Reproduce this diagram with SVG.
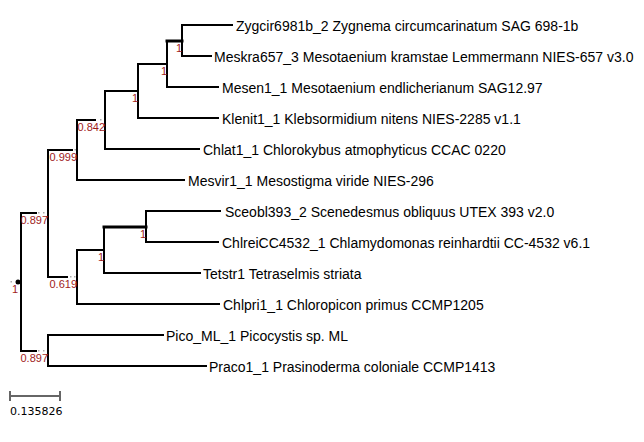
<svg xmlns="http://www.w3.org/2000/svg" width="644" height="442" viewBox="0 0 644 442">
<style>
.br{stroke:#000;stroke-width:2;fill:none;stroke-linecap:square}
.thick{stroke-width:3}
.dot{fill:#aaa}
.leaf{font-family:"Liberation Sans",Arial,sans-serif;font-size:14px;fill:#000}
.sup{font-family:"Liberation Sans",Arial,sans-serif;font-size:11px;fill:#a01c1c;text-anchor:end}
.scale{font-family:"DejaVu Sans",sans-serif;font-size:11px;fill:#000}
</style>
<rect width="644" height="442" fill="#fff"/>
<g id="connectors">
<!-- root vertical -->
<path class="br" d="M21 213V351"/>
<!-- root -> A (gap) -->
<path class="br" d="M21 213H36"/>
<rect class="dot" x="38" y="212" width="1.5" height="1.5"/><rect class="dot" x="43" y="212" width="1.5" height="1.5"/>
<path class="br" d="M48 150V277"/>
<!-- root -> J -->
<path class="br" d="M21 351H36"/>
<rect class="dot" x="38" y="350" width="1.5" height="1.5"/><rect class="dot" x="43" y="350" width="1.5" height="1.5"/>
<path class="br" d="M48 335V366"/>
<!-- A -> B -->
<path class="br" d="M48 150H72"/>
<rect class="dot" x="74.5" y="149" width="1.5" height="1.5"/>
<path class="br" d="M77 120V180"/>
<!-- A -> G -->
<path class="br" d="M48 277H67"/>
<rect class="dot" x="70" y="276" width="1.5" height="1.5"/><rect class="dot" x="74" y="276" width="1.5" height="1.5"/>
<path class="br" d="M77 250V304"/>
<!-- B -> C -->
<path class="br" d="M77 120H95"/>
<rect class="dot" x="100" y="119" width="1.5" height="1.5"/>
<path class="br" d="M105 91V149"/>
<!-- C -> D -->
<path class="br" d="M105 91H138V64"/>
<path class="br" d="M138 64V118"/>
<!-- D -> E -->
<path class="br" d="M138 64H167"/>
<path class="br" d="M167 41V87"/>
<!-- E -> F -->
<path class="br thick" d="M167 41H182"/>
<path class="br" d="M182 25V56"/>
<!-- G -> H -->
<path class="br" d="M77 250H104"/>
<path class="br" d="M104 227V273"/>
<!-- H -> I -->
<path class="br thick" d="M104 227H146"/>
<path class="br" d="M146 211V242"/>
<!-- leaf branches -->
<path class="br" d="M182 25H232"/>
<path class="br" d="M182 56H211"/>
<path class="br" d="M167 87H218"/>
<path class="br" d="M138 118H218"/>
<path class="br" d="M105 149H199"/>
<path class="br" d="M77 180H184"/>
<path class="br" d="M146 211H220"/>
<path class="br" d="M146 242H218"/>
<path class="br" d="M104 273H200"/>
<path class="br" d="M77 304H219"/>
<path class="br" d="M48 335H163"/>
<path class="br" d="M48 366H206"/>
</g>
<g id="root">
<circle cx="18" cy="282" r="2.5" fill="#000"/>
<rect class="dot" x="10.5" y="281" width="1.5" height="1.5"/>
<text class="sup" x="18" y="293">1</text>
</g>
<g id="nodeA"><text class="sup" x="48" y="224">0.897</text></g>
<g id="nodeJ"><text class="sup" x="48" y="362">0.897</text></g>
<g id="nodeB"><text class="sup" x="77" y="161">0.999</text></g>
<g id="nodeG"><text class="sup" x="77" y="288">0.619</text></g>
<g id="nodeC"><text class="sup" x="105" y="131">0.842</text></g>
<g id="nodeD"><text class="sup" x="138" y="102">1</text></g>
<g id="nodeE"><text class="sup" x="167" y="75">1</text></g>
<g id="nodeF"><text class="sup" x="182" y="52">1</text></g>
<g id="nodeH"><text class="sup" x="104" y="261">1</text></g>
<g id="nodeI"><text class="sup" x="146" y="238">1</text></g>
<g id="leaf-Zygcir"><text class="leaf" x="236" y="31">Zygcir6981b_2 Zygnema circumcarinatum SAG 698-1b</text></g>
<g id="leaf-Meskra"><text class="leaf" x="214" y="62">Meskra657_3 Mesotaenium kramstae Lemmermann NIES-657 v3.0</text></g>
<g id="leaf-Mesen"><text class="leaf" x="222" y="93">Mesen1_1 Mesotaenium endlicherianum SAG12.97</text></g>
<g id="leaf-Klenit"><text class="leaf" x="222" y="124">Klenit1_1 Klebsormidium nitens NIES-2285 v1.1</text></g>
<g id="leaf-Chlat"><text class="leaf" x="203" y="155">Chlat1_1 Chlorokybus atmophyticus CCAC 0220</text></g>
<g id="leaf-Mesvir"><text class="leaf" x="188" y="186">Mesvir1_1 Mesostigma viride NIES-296</text></g>
<g id="leaf-Sceobl"><text class="leaf" x="225" y="217">Sceobl393_2 Scenedesmus obliquus UTEX 393 v2.0</text></g>
<g id="leaf-Chlrei"><text class="leaf" x="222" y="248">ChlreiCC4532_1 Chlamydomonas reinhardtii CC-4532 v6.1</text></g>
<g id="leaf-Tetstr"><text class="leaf" x="203" y="279">Tetstr1 Tetraselmis striata</text></g>
<g id="leaf-Chlpri"><text class="leaf" x="223" y="310">Chlpri1_1 Chloropicon primus CCMP1205</text></g>
<g id="leaf-Pico"><text class="leaf" x="166" y="341">Pico_ML_1 Picocystis sp. ML</text></g>
<g id="leaf-Praco"><text class="leaf" x="209" y="372">Praco1_1 Prasinoderma coloniale CCMP1413</text></g>
<g id="scalebar">
<path d="M10 396H60M10 391V401M60 391V401" stroke="#666" stroke-width="2" fill="none"/>
<text class="scale" x="10" y="415">0.135826</text>
</g>
</svg>
